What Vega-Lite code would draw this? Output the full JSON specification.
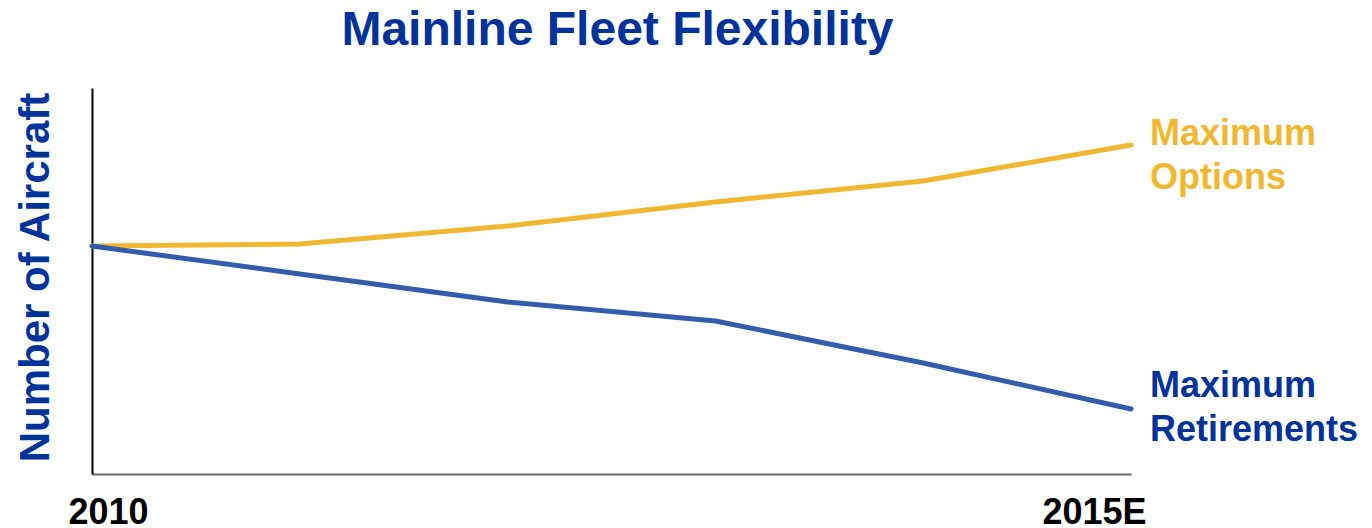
{
  "$schema": "https://vega.github.io/schema/vega-lite/v6.json",
  "width": 1039,
  "height": 386,
  "autosize": {"type": "none"},
  "padding": {"left": 92, "top": 88, "right": 241, "bottom": 54},
  "background": "white",
  "config": {"view": {"stroke": null}, "font": "Liberation Sans"},
  "title": {
    "text": "Mainline Fleet Flexibility",
    "anchor": "middle",
    "frame": "group",
    "font": "Liberation Sans",
    "fontSize": 48,
    "fontWeight": "bold",
    "color": "#003399",
    "baseline": "alphabetic",
    "offset": -5,
    "dx": 6
  },
  "data": {
    "values": [
      {"year": 2010, "series": "Maximum Options", "value": 228},
      {"year": 2011, "series": "Maximum Options", "value": 230},
      {"year": 2012, "series": "Maximum Options", "value": 248},
      {"year": 2013, "series": "Maximum Options", "value": 272},
      {"year": 2014, "series": "Maximum Options", "value": 293},
      {"year": 2015, "series": "Maximum Options", "value": 329},
      {"year": 2010, "series": "Maximum Retirements", "value": 228},
      {"year": 2011, "series": "Maximum Retirements", "value": 200},
      {"year": 2012, "series": "Maximum Retirements", "value": 172},
      {"year": 2013, "series": "Maximum Retirements", "value": 153},
      {"year": 2014, "series": "Maximum Retirements", "value": 111},
      {"year": 2015, "series": "Maximum Retirements", "value": 65}
    ]
  },
  "encoding": {
    "x": {
      "field": "year",
      "type": "quantitative",
      "scale": {"domain": [2010, 2015], "nice": false, "zero": false},
      "axis": {
        "title": null,
        "values": [2010, 2015],
        "labelExpr": "datum.value == 2015 ? '2015E' : '2010'",
        "labelFont": "Liberation Sans",
        "labelFontSize": 36,
        "labelFontWeight": "bold",
        "labelColor": "black",
        "labelFlush": true,
        "labelOffset": {"condition": {"test": "datum.value == 2010", "value": -24}, "value": 15},
        "labelPadding": 21,
        "ticks": false,
        "tickSize": 0,
        "grid": false,
        "domainColor": "#6b6b6b",
        "domainWidth": 2
      }
    },
    "y": {
      "field": "value",
      "type": "quantitative",
      "scale": {"domain": [0, 386], "nice": false},
      "axis": {
        "title": "Number of Aircraft",
        "titleFont": "Liberation Sans",
        "titleFontSize": 42,
        "titleFontWeight": "bold",
        "titleColor": "#003399",
        "titlePadding": 35,
        "titleY": 189,
        "labels": false,
        "ticks": false,
        "grid": false,
        "domainColor": "black",
        "domainWidth": 2
      }
    }
  },
  "layer": [
    {
      "mark": {"type": "line", "strokeWidth": 5, "strokeCap": "round", "strokeJoin": "round"},
      "encoding": {
        "color": {
          "field": "series",
          "type": "nominal",
          "scale": {"domain": ["Maximum Options", "Maximum Retirements"], "range": ["#EFB830", "#345CAC"]},
          "legend": null
        }
      }
    },
    {
      "transform": [{"filter": "datum.year == 2015 && datum.series == 'Maximum Options'"}],
      "mark": {"type": "text", "align": "left", "baseline": "alphabetic", "dx": 19, "dy": 0, "lineBreak": " ", "lineHeight": 44, "font": "Liberation Sans", "fontSize": 36, "fontWeight": "bold", "color": "#EFB830"},
      "encoding": {"text": {"field": "series"}}
    },
    {
      "transform": [{"filter": "datum.year == 2015 && datum.series == 'Maximum Retirements'"}],
      "mark": {"type": "text", "align": "left", "baseline": "alphabetic", "dx": 19, "dy": -12, "lineBreak": " ", "lineHeight": 44, "font": "Liberation Sans", "fontSize": 36, "fontWeight": "bold", "color": "#003399"},
      "encoding": {"text": {"field": "series"}}
    }
  ]
}
